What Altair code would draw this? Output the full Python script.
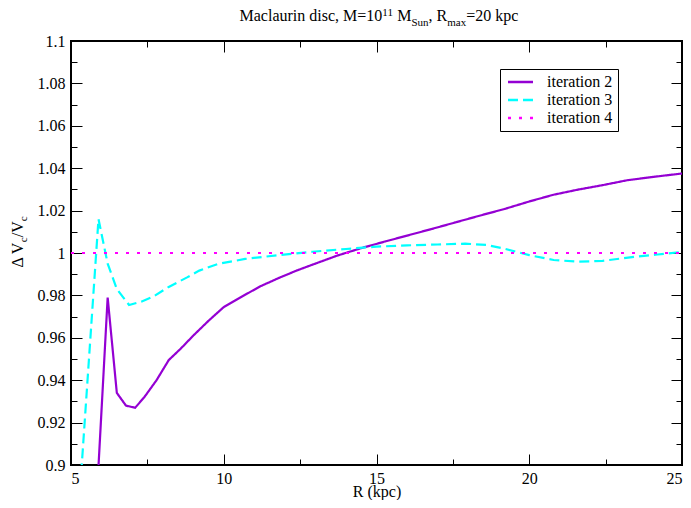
import altair as alt
import pandas as pd

# ---------------- data ----------------
r_it2 = [5.6, 6.2, 6.5, 6.8, 7.1, 7.4, 7.8, 8.2, 8.6, 9.0, 9.5, 10.0, 10.6, 11.2,
         11.8, 12.4, 13.0, 13.7, 14.5, 15.3, 16.0, 16.8, 17.6, 18.4, 19.2, 20.0,
         20.8, 21.6, 22.4, 23.2, 24.0, 25.0]
v_it2 = [0.82, 0.979, 0.934, 0.928, 0.927, 0.932, 0.940, 0.9495, 0.955, 0.961,
         0.968, 0.9745, 0.9795, 0.9843, 0.9882, 0.9918, 0.995, 0.9987, 1.0023,
         1.0055, 1.0082, 1.0113, 1.0145, 1.0177, 1.0208, 1.0243, 1.0275, 1.0299,
         1.032, 1.0343, 1.0358, 1.0375]

r_it3 = [5.3, 5.9, 6.2, 6.5, 6.9, 7.3, 7.7, 8.2, 8.8, 9.2, 9.8, 10.7, 11.8, 12.9,
         14.0, 15.0, 16.0, 17.0, 17.9, 18.6, 19.2, 20.0, 20.8, 21.6, 22.4, 23.5,
         24.2, 25.0]
v_it3 = [0.889, 1.016, 0.995, 0.983, 0.9755, 0.977, 0.9795, 0.984, 0.9885, 0.9917,
         0.9948, 0.9972, 0.999, 1.0006, 1.0019, 1.003, 1.0036, 1.004, 1.0044,
         1.0038, 1.002, 0.999, 0.9967, 0.9959, 0.9963, 0.9983, 0.9993, 1.0005]

r_it4 = [5.0, 25.0]
v_it4 = [1.0, 1.0]

series_names = ["iteration 2", "iteration 3", "iteration 4"]
series_colors = ["#9400d3", "#00ffff", "#ff00ff"]
series_dashes = [[1, 0], [10, 5], [3, 8]]

x_major = [5, 10, 15, 20, 25]
x_minor = [7.5, 12.5, 17.5, 22.5]
y_major = [0.9, 0.92, 0.94, 0.96, 0.98, 1.0, 1.02, 1.04, 1.06, 1.08, 1.1]
y_minor = [0.91, 0.93, 0.95, 0.97, 0.99, 1.01, 1.03, 1.05, 1.07, 1.09]

# ---------------- tables ----------------
lines_df = pd.concat([
    pd.DataFrame({"R": r_it2, "V": v_it2, "series": series_names[0]}),
    pd.DataFrame({"R": r_it3, "V": v_it3, "series": series_names[1]}),
    pd.DataFrame({"R": r_it4, "V": v_it4, "series": series_names[2]}),
], ignore_index=True)

W, H = 611, 424
FONT = "Liberation Serif, Times New Roman, Times, serif"
MAJ, MIN = 11, 6

xscale = alt.Scale(domain=[5, 25], nice=False, zero=False)
yscale = alt.Scale(domain=[0.9, 1.1], nice=False, zero=False)


def tick_axis(orient, vals, length, labels=False, **kw):
    # inward ticks: the axis line is moved inside the frame by `length`
    # and its outward ticks reach back to the frame
    return alt.Axis(orient=orient, values=vals, ticks=True, tickSize=length,
                    tickColor="black", tickWidth=1, offset=-length,
                    domain=False, grid=False, labels=labels, **kw)


label_style = dict(labelFont=FONT, labelFontSize=16, labelColor="black")

x_main = tick_axis("bottom", x_major, MAJ, True, format="d", labelPadding=5,
                   title="R (kpc)", titleFont=FONT, titleFontSize=16,
                   titleFontWeight="normal", titleColor="black",
                   titlePadding=-3, **label_style)
y_main = tick_axis("left", y_major, MAJ, True, format=".2~f", labelPadding=6,
                   title=None, **label_style)

legend = alt.Legend(title=None, orient="none", legendX=429, legendY=28,
                    symbolType="M-1,0H4", symbolSize=100, symbolStrokeWidth=2.5,
                    labelFont=FONT, labelFontSize=16, labelColor="black",
                    strokeColor="black", fillColor="white", padding=5,
                    rowPadding=2, labelOffset=26)

lines = alt.Chart(lines_df).mark_line(clip=True, strokeWidth=2.2).encode(
    x=alt.X("R:Q", scale=xscale, axis=x_main),
    y=alt.Y("V:Q", scale=yscale, axis=y_main),
    color=alt.Color("series:N",
                    scale=alt.Scale(domain=series_names, range=series_colors),
                    legend=legend),
    strokeDash=alt.StrokeDash("series:N",
                              scale=alt.Scale(domain=series_names,
                                              range=series_dashes),
                              legend=legend),
    detail="series:N",
)


def carrier(xax, yax):
    # invisible layer that only carries an extra set of axis ticks
    return alt.Chart(lines_df).mark_point(opacity=0).encode(
        x=alt.X("R:Q", scale=xscale, axis=xax),
        y=alt.Y("V:Q", scale=yscale, axis=yax))


carriers = [
    carrier(tick_axis("top", x_major, MAJ, title=None),
            tick_axis("right", y_major, MAJ, title=None)),
    carrier(tick_axis("bottom", x_minor, MIN, title=None),
            tick_axis("left", y_minor, MIN, title=None)),
    carrier(tick_axis("top", x_minor, MIN, title=None),
            tick_axis("right", y_minor, MIN, title=None)),
]

one = alt.Data(values=[{}])


def txt(s, x, y, size=16, angle=0):
    kw = dict(align="left", baseline="alphabetic", font=FONT, fontSize=size,
              color="black")
    if angle:
        kw["angle"] = angle
    return alt.Chart(one).mark_text(**kw).encode(
        text=alt.value(s), x=alt.value(x), y=alt.value(y))


title_parts = [
    txt("Maclaurin disc, M=10", 168.5, -20),
    txt("11", 311.3, -25, 11),
    txt("M", 326.3, -20),
    txt("Sun", 340.5, -15, 11),
    txt(", R", 357.6, -20),
    txt("max", 376.3, -15, 11),
    txt("=20 kpc", 395.2, -20),
]

ytitle_parts = [
    txt("\u0394 V", -48, 226.6, 16, 270),
    txt("c", -44, 201.2, 11, 270),
    txt("/V", -48, 196.3, 16, 270),
    txt("c", -44, 180.3, 11, 270),
]

chart = alt.layer(lines, *carriers, *title_parts, *ytitle_parts).resolve_axis(
    x="independent", y="independent"
).properties(
    width=W, height=H,
    autosize=alt.AutoSizeParams(type="none"),
    padding={"left": 63, "top": 33, "right": 1, "bottom": 35},
).configure_view(stroke="black", strokeWidth=2)

chart.save("out.html", embed_options={"renderer": "svg", "actions": False})
